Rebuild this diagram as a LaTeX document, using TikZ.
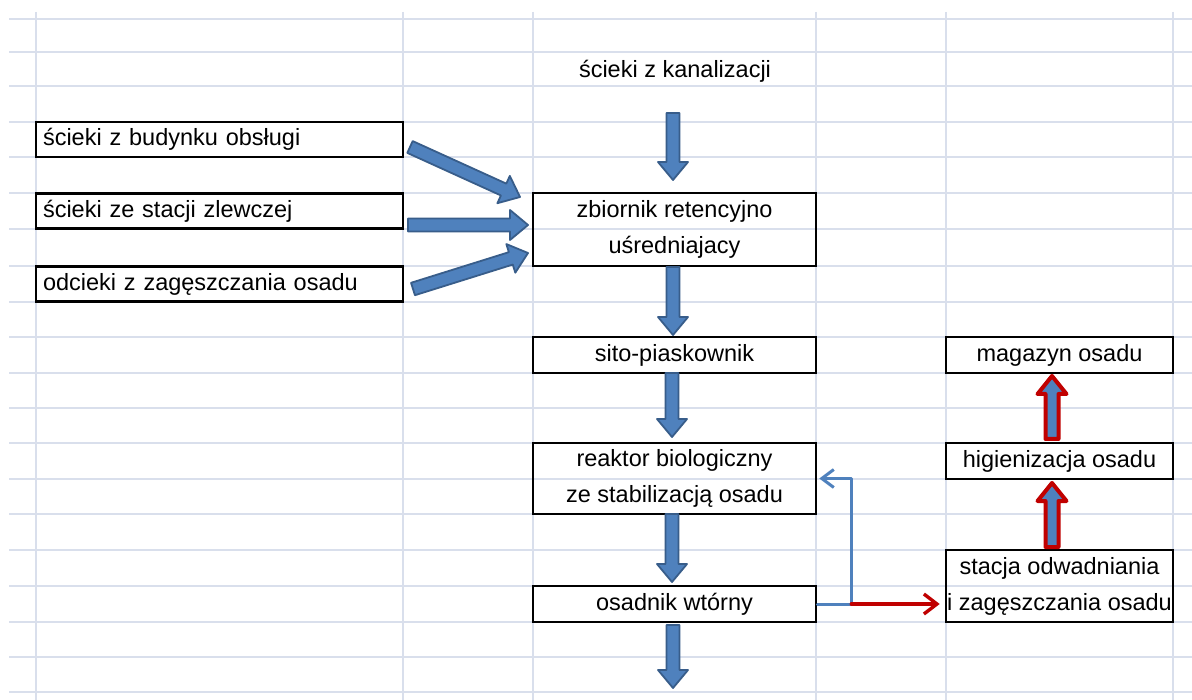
\documentclass[tikz,border=0pt]{standalone}
\usepackage{fontspec}
\setmainfont{Liberation Sans}
\usetikzlibrary{calc,arrows.meta}
\definecolor{gridc}{HTML}{D9DFEC}
\definecolor{abfill}{HTML}{4F81BD}
\definecolor{abline}{HTML}{385D8A}
\definecolor{rline}{HTML}{C00000}
\newcommand\barrow[6]{% style, half shaft, half head, head length, start, end
  \coordinate (ba-h) at ($(#6)!#4!(#5)$);
  \draw[#1] ($(#5)!#2!90:(#6)$) -- ($(ba-h)!#2!90:(#6)$) -- ($(ba-h)!#3!90:(#6)$) -- (#6) -- ($(ba-h)!#3!-90:(#6)$) -- ($(ba-h)!#2!-90:(#6)$) -- ($(#5)!#2!-90:(#6)$) -- cycle;}
\begin{document}
\begin{tikzpicture}[x=1pt,y=-1pt,
  gridl/.style={draw=gridc, line width=1.5pt},
  txt/.style={font=\fontsize{23.5}{36}\selectfont, inner sep=0pt, align=center},
  box/.style={txt, draw=black, line width=2.6pt},
  lbox/.style={box, align=left, text width=353pt, minimum width=367pt, minimum height=35pt},
  mbox/.style={box, minimum width=283pt},
  rbox/.style={box, minimum width=227pt},
  bluearr/.style={fill=abfill, draw=abline, line width=1.8pt, line join=round},
  redarr/.style={fill=abfill, draw=rline, line width=4pt, line join=round},
  fbline/.style={draw=abfill, line width=3pt, line cap=round, line join=round},
  rdline/.style={draw=rline, line width=3.4pt, line cap=round},
]
\useasboundingbox (0,0) rectangle (1192,700);
\fill[white] (0,0) rectangle (1192,700);
% grid
\foreach \y in {19,52,86,122,157,193,229,266,302,337,373,408,443,479,514,550,586,622,657,692}
  \draw[gridl] (9,\y) -- (1192,\y);
\foreach \x in {36,403,533,816,946,1173}
  \draw[gridl] (\x,12) -- (\x,700);
% nodes
\node[txt] (kan) at (675,71) {ścieki z kanalizacji};
\node[lbox] (b1) at (219.5,139.5) {ścieki z budynku obsługi};
\node[lbox] (b2) at (219.5,211) {ścieki ze stacji zlewczej};
\node[lbox] (b3) at (219.5,284) {odcieki z zagęszczania osadu};
\node[mbox, minimum height=73pt] (z) at (674.5,229.5) {zbiornik retencyjno\\uśredniajacy};
\node[mbox, minimum height=36pt] (s) at (674.5,355) {sito-piaskownik};
\node[mbox, minimum height=71pt] (r) at (674.5,478.5) {reaktor biologiczny\\ze stabilizacją osadu};
\node[mbox, minimum height=36pt] (o) at (674.5,604) {osadnik wtórny};
\node[rbox, minimum height=36pt] (m) at (1059.5,355) {magazyn osadu};
\node[rbox, minimum height=36pt] (h) at (1059.5,461) {higienizacja osadu};
\node[rbox, minimum height=72pt] (st) at (1059.5,586) {stacja odwadniania\\i zagęszczania osadu};
% block arrow end points
\coordinate (a1s) at (673,113); \coordinate (a1e) at (673,180);
\coordinate (a2s) at (673,267); \coordinate (a2e) at (673,335);
\coordinate (a3s) at (672,373); \coordinate (a3e) at (672,437);
\coordinate (a4s) at (672,514); \coordinate (a4e) at (672,582);
\coordinate (a5s) at (673,625); \coordinate (a5e) at (673,688);
\coordinate (l1s) at (410,147); \coordinate (l1e) at (520,197);
\coordinate (l2s) at (408,225); \coordinate (l2e) at (528,225);
\coordinate (l3s) at (413,289); \coordinate (l3e) at (528,253);
\coordinate (r1s) at (1052,547); \coordinate (r1e) at (1052,483);
\coordinate (r2s) at (1052,439); \coordinate (r2e) at (1052,376);
\barrow{bluearr}{6.5pt}{15pt}{18pt}{a1s}{a1e}
\barrow{bluearr}{6.5pt}{15pt}{18pt}{a2s}{a2e}
\barrow{bluearr}{6.5pt}{15pt}{18pt}{a3s}{a3e}
\barrow{bluearr}{6.5pt}{15pt}{18pt}{a4s}{a4e}
\barrow{bluearr}{6.5pt}{15pt}{18pt}{a5s}{a5e}
\barrow{bluearr}{6.5pt}{15pt}{18pt}{l1s}{l1e}
\barrow{bluearr}{6.5pt}{15pt}{18pt}{l2s}{l2e}
\barrow{bluearr}{6.5pt}{15pt}{18pt}{l3s}{l3e}
\barrow{redarr}{6.5pt}{14.5pt}{18pt}{r1s}{r1e}
\barrow{redarr}{6.5pt}{14.5pt}{18pt}{r2s}{r2e}
% thin connectors
\draw[fbline] (o.east) -- ++(34,0) coordinate (j);
\draw[fbline, -{Straight Barb[length=12pt,width=18pt]}, shorten >=2pt] (j) |- (r.east);
\draw[rdline, -{Straight Barb[length=13pt,width=20pt]}, shorten >=5pt] (j) -- (j -| st.west);
\end{tikzpicture}
\end{document}
